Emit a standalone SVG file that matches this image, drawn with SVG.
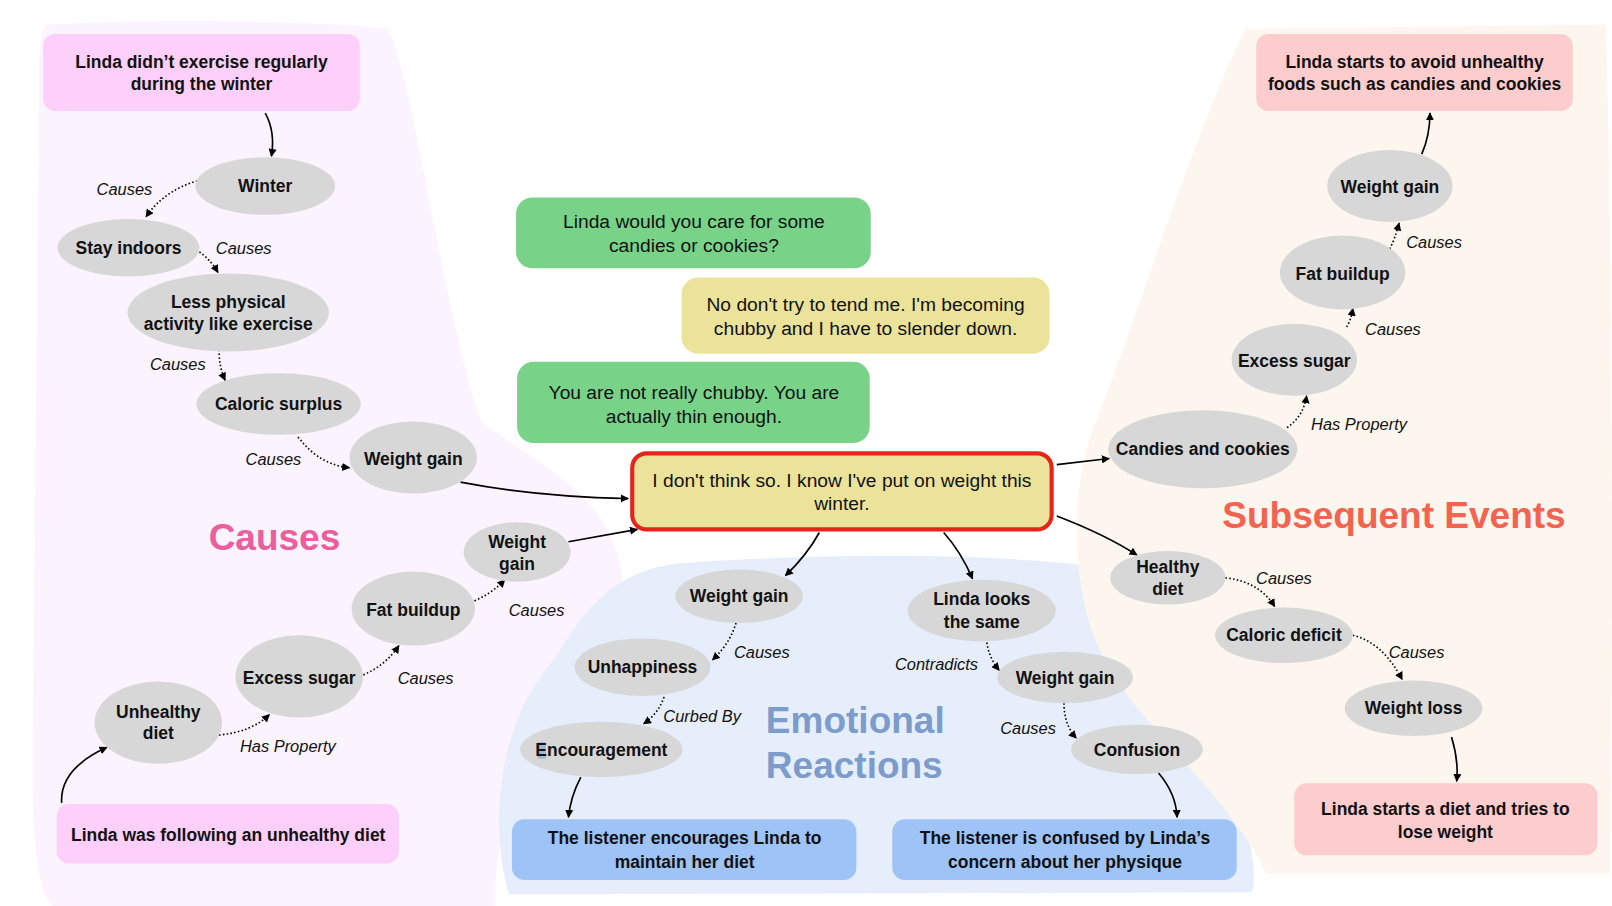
<svg xmlns="http://www.w3.org/2000/svg" width="1612" height="906" viewBox="0 0 1612 906">
<defs>
<marker id="ah" viewBox="0 0 10 10" refX="9" refY="5" markerWidth="8" markerHeight="8" orient="auto" markerUnits="userSpaceOnUse"><path d="M0,0 L10,5 L0,10 Z" fill="#000"/></marker>
<style>
text{font-family:"Liberation Sans",Arial,sans-serif;fill:#111;}
.n{font-size:18.7px;text-anchor:middle;}
.b{font-size:17px;text-anchor:middle;font-weight:bold;}
.l{font-size:16px;font-style:italic;text-anchor:middle;}
.el{fill:#d7d7d7;}
.solid{fill:none;stroke:#000;stroke-width:1.6;marker-end:url(#ah);}
.dot{fill:none;stroke:#000;stroke-width:1.6;stroke-dasharray:1.5 2.2;marker-end:url(#ah);}
</style>
</defs>
<rect width="1612" height="906" fill="#fff"/>
<g transform="scale(1.028)">
<g id="regions">
<path d="M45,24 C150,18 300,20 378,28 C405,90 430,300 468,410 C520,450 595,480 605,560 C610,620 560,680 520,720 C490,780 480,840 482,882 L55,885 C35,870 30,820 32,700 L38,100 C38,60 38,35 45,24 Z" fill="#fbf3fd"/>
<path d="M495,870 C475,800 485,700 540,640 C570,590 600,555 660,548 C800,538 950,538 1060,550 C1120,580 1150,640 1185,720 C1210,790 1225,840 1218,868 Z" fill="#e6eefb"/>
<path d="M1232,850 C1190,760 1080,690 1058,600 C1042,540 1045,470 1062,420 C1100,330 1160,130 1212,28 L1562,24 C1568,200 1570,600 1566,850 Z" fill="#fdf6ee"/>
</g>
<g id="connectors">
<path class="solid" d="M258,110 Q268,128 264,152"/>
<path class="solid" d="M448,469 Q520,483 611,485"/>
<path class="solid" d="M553,527 L620,515"/>
<path class="solid" d="M60,781 Q58,748 104,727"/>
<path class="solid" d="M797,518 Q785,540 764,560"/>
<path class="solid" d="M918,518 Q935,537 946,563"/>
<path class="solid" d="M565,756 Q555,775 553,795"/>
<path class="solid" d="M1127,752 Q1144,772 1145,795"/>
<path class="solid" d="M1028,452 L1079,446"/>
<path class="solid" d="M1028,502 Q1075,520 1106,540"/>
<path class="solid" d="M1383,150 Q1391,132 1391,110"/>
<path class="solid" d="M1412,717 Q1419,740 1417,760"/>
<path class="dot" d="M192,176 Q160,185 142,211"/>
<path class="dot" d="M194,245 Q205,253 212,265"/>
<path class="dot" d="M213,340 Q213,357 219,370"/>
<path class="dot" d="M290,425 Q310,452 340,455"/>
<path class="dot" d="M213,715 Q245,712 262,695"/>
<path class="dot" d="M350,658 Q375,648 388,628"/>
<path class="dot" d="M458,586 Q478,578 491,564"/>
<path class="dot" d="M716,606 Q710,626 693,642"/>
<path class="dot" d="M646,678 Q640,695 626,704"/>
<path class="dot" d="M960,625 Q962,640 972,652"/>
<path class="dot" d="M1035,684 Q1035,705 1047,718"/>
<path class="dot" d="M1252,416 Q1268,405 1271,385"/>
<path class="dot" d="M1310,318 Q1314,312 1316,300"/>
<path class="dot" d="M1352,242 Q1357,232 1361,217"/>
<path class="dot" d="M1192,562 Q1225,566 1240,590"/>
<path class="dot" d="M1316,618 Q1345,625 1364,661"/>
</g>
<g id="edge-labels">
<text class="l" x="121" y="190">Causes</text>
<text class="l" x="237" y="247">Causes</text>
<text class="l" x="173" y="360">Causes</text>
<text class="l" x="266" y="452">Causes</text>
<text class="l" x="522" y="599">Causes</text>
<text class="l" x="414" y="665">Causes</text>
<text class="l" x="280" y="732">Has Property</text>
<text class="l" x="741" y="640">Causes</text>
<text class="l" x="683" y="702">Curbed By</text>
<text class="l" x="911" y="652">Contradicts</text>
<text class="l" x="1000" y="714">Causes</text>
<text class="l" x="1395" y="241">Causes</text>
<text class="l" x="1355" y="326">Causes</text>
<text class="l" x="1322" y="418">Has Property</text>
<text class="l" x="1249" y="568">Causes</text>
<text class="l" x="1378" y="640">Causes</text>
</g>
<g id="titles">
<text x="267" y="535" style="font-size:36px;font-weight:bold;fill:#e95fa0;text-anchor:middle">Causes</text>
<text x="745" y="713" style="font-size:36px;font-weight:bold;fill:#7c9ccc">Emotional</text>
<text x="745" y="757" style="font-size:36px;font-weight:bold;fill:#7c9ccc">Reactions</text>
<text x="1356" y="514" style="font-size:36px;font-weight:bold;fill:#f26450;text-anchor:middle">Subsequent Events</text>
</g>
<g id="n-exercise"><rect x="42" y="33" width="308" height="75" rx="12" fill="#fdcffb"/><text class="b" x="196" y="66">Linda didn’t exercise regularly</text><text class="b" x="196" y="88">during the winter</text></g>
<g id="n-winter"><ellipse class="el" cx="258" cy="181" rx="68" ry="28"/><text class="b" x="258" y="187">Winter</text></g>
<g id="n-stay"><ellipse class="el" cx="125" cy="241" rx="69" ry="28"/><text class="b" x="125" y="247">Stay indoors</text></g>
<g id="n-lessphys"><ellipse class="el" cx="222" cy="304" rx="98" ry="38"/><text class="b" x="222" y="300">Less physical</text><text class="b" x="222" y="321">activity like exercise</text></g>
<g id="n-surplus"><ellipse class="el" cx="271" cy="393" rx="80" ry="30"/><text class="b" x="271" y="399">Caloric surplus</text></g>
<g id="n-wg1"><ellipse class="el" cx="402" cy="445" rx="62" ry="35"/><text class="b" x="402" y="452">Weight gain</text></g>
<g id="n-wg2"><ellipse class="el" cx="503" cy="537" rx="52" ry="29"/><text class="b" x="503" y="533">Weight</text><text class="b" x="503" y="554">gain</text></g>
<g id="n-fat1"><ellipse class="el" cx="402" cy="592" rx="60" ry="36"/><text class="b" x="402" y="599">Fat buildup</text></g>
<g id="n-sugar1"><ellipse class="el" cx="291" cy="658" rx="62" ry="40"/><text class="b" x="291" y="665">Excess sugar</text></g>
<g id="n-unhealthy"><ellipse class="el" cx="154" cy="703" rx="62" ry="40"/><text class="b" x="154" y="698">Unhealthy</text><text class="b" x="154" y="719">diet</text></g>
<g id="n-following"><rect x="55" y="782" width="333" height="58" rx="12" fill="#fdcffb"/><text class="b" x="222" y="818">Linda was following an unhealthy diet</text></g>
<g id="d-1"><rect x="502" y="192" width="345" height="69" rx="16" fill="#78d389"/><text class="n" x="675" y="222">Linda would you care for some</text><text class="n" x="675" y="245">candies or cookies?</text></g>
<g id="d-2"><rect x="663" y="270" width="358" height="74" rx="16" fill="#ece39b"/><text class="n" x="842" y="303">No don't try to tend me. I'm becoming</text><text class="n" x="842" y="326">chubby and I have to slender down.</text></g>
<g id="d-3"><rect x="503" y="352" width="343" height="79" rx="16" fill="#78d389"/><text class="n" x="675" y="388">You are not really chubby. You are</text><text class="n" x="675" y="411">actually thin enough.</text></g>
<g id="d-4"><rect x="615" y="441" width="408" height="74" rx="14" fill="#ece39b" stroke="#e8231a" stroke-width="4"/><text class="n" x="819" y="474">I don't think so. I know I've put on weight this</text><text class="n" x="819" y="496">winter.</text></g>
<g id="n-wg3"><ellipse class="el" cx="719" cy="580" rx="62" ry="26"/><text class="b" x="719" y="586">Weight gain</text></g>
<g id="n-unhappy"><ellipse class="el" cx="625" cy="649" rx="66" ry="28"/><text class="b" x="625" y="655">Unhappiness</text></g>
<g id="n-encour"><ellipse class="el" cx="585" cy="729" rx="79" ry="27"/><rect x="523" y="722" width="8" height="16" fill="#8aa7c9" opacity="0.7"/><text class="b" x="585" y="735">Encouragement</text></g>
<g id="n-looks"><ellipse class="el" cx="955" cy="594" rx="72" ry="30"/><text class="b" x="955" y="589">Linda looks</text><text class="b" x="955" y="611">the same</text></g>
<g id="n-wg4"><ellipse class="el" cx="1036" cy="659" rx="66" ry="25"/><text class="b" x="1036" y="665">Weight gain</text></g>
<g id="n-confusion"><ellipse class="el" cx="1106" cy="729" rx="64" ry="24"/><text class="b" x="1106" y="735">Confusion</text></g>
<g id="n-encbox"><rect x="498" y="797" width="335" height="59" rx="12" fill="#9ec3f7"/><text class="b" x="666" y="821">The listener encourages Linda to</text><text class="b" x="666" y="844">maintain her diet</text></g>
<g id="n-confbox"><rect x="868" y="797" width="335" height="59" rx="12" fill="#9ec3f7"/><text class="b" x="1036" y="821">The listener is confused by Linda’s</text><text class="b" x="1036" y="844">concern about her physique</text></g>
<g id="n-avoid"><rect x="1222" y="33" width="308" height="75" rx="12" fill="#fdcccc"/><text class="b" x="1376" y="66">Linda starts to avoid unhealthy</text><text class="b" x="1376" y="88">foods such as candies and cookies</text></g>
<g id="n-wg5"><ellipse class="el" cx="1352" cy="181" rx="61" ry="35"/><text class="b" x="1352" y="188">Weight gain</text></g>
<g id="n-fat2"><ellipse class="el" cx="1306" cy="265" rx="61" ry="36"/><text class="b" x="1306" y="272">Fat buildup</text></g>
<g id="n-sugar2"><ellipse class="el" cx="1259" cy="350" rx="61" ry="35"/><text class="b" x="1259" y="357">Excess sugar</text></g>
<g id="n-candies"><ellipse class="el" cx="1170" cy="437" rx="92" ry="38"/><text class="b" x="1170" y="443">Candies and cookies</text></g>
<g id="n-healthy"><ellipse class="el" cx="1136" cy="562" rx="56" ry="26"/><text class="b" x="1136" y="557">Healthy</text><text class="b" x="1136" y="579">diet</text></g>
<g id="n-deficit"><ellipse class="el" cx="1249" cy="618" rx="67" ry="27"/><text class="b" x="1249" y="624">Caloric deficit</text></g>
<g id="n-loss"><ellipse class="el" cx="1375" cy="689" rx="67" ry="27"/><text class="b" x="1375" y="695">Weight loss</text></g>
<g id="n-dietbox"><rect x="1259" y="762" width="295" height="70" rx="12" fill="#fdcccc"/><text class="b" x="1406" y="793">Linda starts a diet and tries to</text><text class="b" x="1406" y="815">lose weight</text></g>
</g>
</svg>
